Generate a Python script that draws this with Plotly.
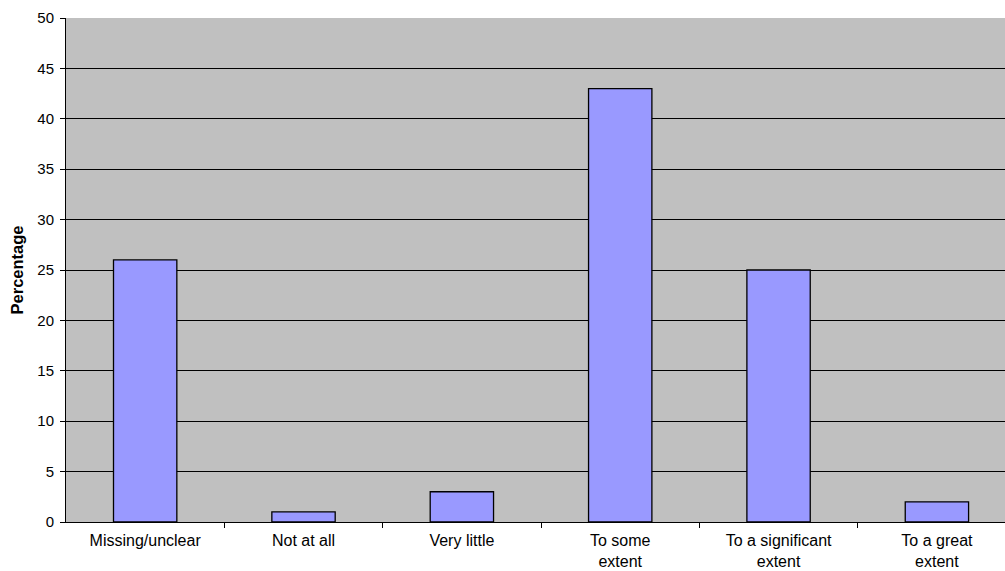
import plotly.graph_objects as go

categories = ["Missing/unclear", "Not at all", "Very little", "To some<br>extent",
              "To a significant<br>extent", "To a great<br>extent"]
values = [26, 1, 3, 43, 25, 2]
y_ticks = [0, 5, 10, 15, 20, 25, 30, 35, 40, 45, 50]

fig = go.Figure(go.Bar(
    x=list(range(len(categories))), y=values, width=0.4,
    marker=dict(color="#9999FF", line=dict(color="black", width=1.3)),
))

fig.update_layout(
    width=1005, height=571,
    margin=dict(l=66, r=0, t=18, b=49),
    paper_bgcolor="white", plot_bgcolor="#C0C0C0",
    font=dict(family="Liberation Sans, Arial, sans-serif", size=15, color="black"),
    showlegend=False,
)
fig.update_xaxes(
    tickmode="array", tickvals=list(range(len(categories))), ticktext=categories,
    range=[-0.5, 5.43], showgrid=False, zeroline=False,
    showline=True, linecolor="black", linewidth=1, automargin=False,
    ticks="", tickfont=dict(size=16), ticklabelstandoff=4,
)
fig.update_xaxes(minor=dict(tickmode="array", tickvals=[0.5, 1.5, 2.5, 3.5, 4.5],
                            ticks="outside", ticklen=5, tickcolor="black", showgrid=False))
fig.update_yaxes(
    range=[0, 50], tickvals=y_ticks, showgrid=True, gridcolor="black", gridwidth=1,
    zeroline=False, showline=True, linecolor="black", linewidth=1, automargin=False,
    ticks="outside", ticklen=5, tickcolor="black", tickfont=dict(size=15),
    ticklabelstandoff=3,
    title=dict(text="<b>Percentage</b>", font=dict(size=16.5), standoff=9),
)
fig.write_html("out.html")
